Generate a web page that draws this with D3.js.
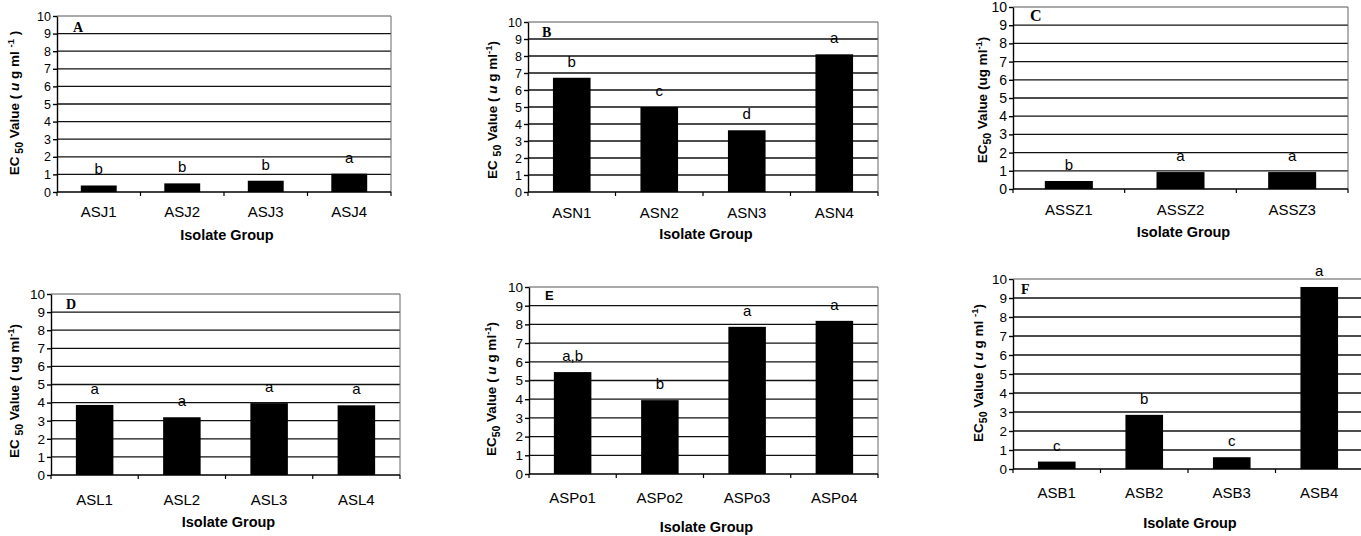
<!DOCTYPE html>
<html>
<head>
<meta charset="utf-8">
<script src="https://cdn.jsdelivr.net/npm/d3@7"></script>
<style>
  body { margin: 0; background: #fff; }
  svg { display: block; font-family: Arial, "Liberation Sans", sans-serif; }
</style>
</head>
<body>
<svg width="1361" height="536"></svg>
<script>
// Tick labels shared by all six panels
const yTicks = [0, 1, 2, 3, 4, 5, 6, 7, 8, 9, 10];
const xTitle = "Isolate Group";

// Panel A
const catsA = ["ASJ1", "ASJ2", "ASJ3", "ASJ4"];
const valsA = [0.37, 0.49, 0.64, 1.04];
const lettersA = ["b", "b", "b", "a"];
// Panel B
const catsB = ["ASN1", "ASN2", "ASN3", "ASN4"];
const valsB = [6.72, 5.0, 3.63, 8.1];
const lettersB = ["b", "c", "d", "a"];
// Panel C
const catsC = ["ASSZ1", "ASSZ2", "ASSZ3"];
const valsC = [0.44, 0.93, 0.93];
const lettersC = ["b", "a", "a"];
// Panel D
const catsD = ["ASL1", "ASL2", "ASL3", "ASL4"];
const valsD = [3.87, 3.19, 3.97, 3.85];
const lettersD = ["a", "a", "a", "a"];
// Panel E
const catsE = ["ASPo1", "ASPo2", "ASPo3", "ASPo4"];
const valsE = [5.45, 3.95, 7.87, 8.19];
const lettersE = ["a,b", "b", "a", "a"];
// Panel F
const catsF = ["ASB1", "ASB2", "ASB3", "ASB4"];
const valsF = [0.39, 2.85, 0.62, 9.58];
const lettersF = ["c", "b", "c", "a"];

// y axis titles (text pieces: s = subscript, p = superscript, i = italic)
const titleA = [["EC"], [" 50", "s"], [" Value ( "], ["u", "i"], [" g ml "], ["-1", "p"], [" )"]];
const titleB = [["EC "], ["50", "s"], [" Value ( "], ["u", "i"], [" g ml"], ["-1", "p"], [")"]];
const titleC = [["EC"], ["50", "s"], [" Value (ug ml"], ["-1", "p"], [")"]];
const titleD = [["EC "], ["50", "s"], [" Value ( ug ml"], ["-1", "p"], [")"]];
const titleE = [["EC"], ["50", "s"], [" Value ( "], ["u", "i"], [" g ml"], ["-1", "p"], [")"]];
const titleF = [["EC"], ["50", "s"], [" Value ( "], ["u", "i"], [" g ml "], ["-1", "p"], [")"]];

// layout of each panel on the page
const panels = [
  {id: "A", cats: catsA, vals: valsA, letters: lettersA, title: titleA,
   l: 57, r: 391, t: 16, b: 192, tickFs: 12.5, tx: 19, ty: 103, lab: 25, xt: 48,
   idx: 73, idy: 32, idFont: "Times New Roman, Liberation Serif, serif", idFs: 14},
  {id: "B", cats: catsB, vals: valsB, letters: lettersB, title: titleB,
   l: 528, r: 878, t: 22, b: 192, tickFs: 12.5, tx: 497, ty: 110, lab: 26, xt: 47,
   idx: 542, idy: 37, idFont: "Times New Roman, Liberation Serif, serif", idFs: 14},
  {id: "C", cats: catsC, vals: valsC, letters: lettersC, title: titleC,
   l: 1013, r: 1348, t: 7, b: 189, tickFs: 14, tx: 987, ty: 100, lab: 26, xt: 48,
   idx: 1030, idy: 21, idFont: "Times New Roman, Liberation Serif, serif", idFs: 16},
  {id: "D", cats: catsD, vals: valsD, letters: lettersD, title: titleD,
   l: 51, r: 400, t: 294, b: 475, tickFs: 13.5, tx: 19, ty: 391, lab: 30, xt: 52,
   idx: 66, idy: 309, idFont: "Times New Roman, Liberation Serif, serif", idFs: 14},
  {id: "E", cats: catsE, vals: valsE, letters: lettersE, title: titleE,
   l: 529, r: 878, t: 287, b: 474, tickFs: 13.5, tx: 496, ty: 389, lab: 29, xt: 58,
   idx: 545, idy: 300, idFont: "Arial, Liberation Sans, sans-serif", idFs: 13},
  {id: "F", cats: catsF, vals: valsF, letters: lettersF, title: titleF,
   l: 1013, r: 1363, t: 279, b: 469, tickFs: 13.5, tx: 983, ty: 373, lab: 29, xt: 59,
   idx: 1021, idy: 294, idFont: "Times New Roman, Liberation Serif, serif", idFs: 14}
];

const svg = d3.select("svg");
svg.append("rect").attr("width", 1361).attr("height", 536).attr("fill", "#fff");

panels.forEach(p => {
  const g = svg.append("g");

  const x = d3.scaleBand()
      .domain(p.cats)
      .range([p.l, p.r])
      .paddingInner(0.57)
      .paddingOuter(0.285);

  const y = d3.scaleLinear()
      .domain([0, 10])
      .range([p.b, p.t]);

  // horizontal gridlines
  g.selectAll("line.grid")
    .data(yTicks.filter(d => d > 0))
    .join("line")
      .attr("class", "grid")
      .attr("x1", p.l).attr("x2", p.r)
      .attr("y1", d => y(d)).attr("y2", d => y(d))
      .attr("stroke", d => d === 10 ? "#555" : "#111")
      .attr("stroke-width", d => d === 10 ? 1 : 1.3);

  // right border of plot area
  g.append("line")
    .attr("x1", p.r).attr("x2", p.r)
    .attr("y1", y(10)).attr("y2", y(0))
    .attr("stroke", "#666");

  // bars
  g.selectAll("rect.bar")
    .data(p.cats)
    .join("rect")
      .attr("class", "bar")
      .attr("x", d => x(d))
      .attr("width", x.bandwidth())
      .attr("y", (d, i) => y(p.vals[i]))
      .attr("height", (d, i) => y(0) - y(p.vals[i]))
      .attr("fill", "#000");

  // significance letters
  g.selectAll("text.sig")
    .data(p.cats)
    .join("text")
      .attr("class", "sig")
      .attr("x", d => x(d) + x.bandwidth() / 2)
      .attr("y", (d, i) => y(p.vals[i]) - 11)
      .attr("text-anchor", "middle")
      .attr("font-size", 15)
      .text((d, i) => p.letters[i]);

  // y axis
  const ya = g.append("g")
    .attr("transform", `translate(${p.l},0)`)
    .call(d3.axisLeft(y).tickValues(yTicks).tickSize(4).tickSizeOuter(0).tickPadding(2));
  ya.selectAll("text").attr("font-size", p.tickFs).attr("fill", "#000")
    .attr("font-family", "Arial, Liberation Sans, sans-serif");
  ya.selectAll("line, path").attr("stroke", "#000").attr("stroke-width", 1.4);

  // x axis line and boundary ticks
  g.append("line")
    .attr("x1", p.l).attr("x2", p.r)
    .attr("y1", y(0)).attr("y2", y(0))
    .attr("stroke", "#000").attr("stroke-width", 1.4);
  g.selectAll("line.xtick")
    .data(d3.range(p.cats.length + 1))
    .join("line")
      .attr("class", "xtick")
      .attr("x1", i => p.l + i * x.step()).attr("x2", i => p.l + i * x.step())
      .attr("y1", y(0)).attr("y2", y(0) + 4)
      .attr("stroke", "#000").attr("stroke-width", 1.2);

  // category labels
  g.selectAll("text.cat")
    .data(p.cats)
    .join("text")
      .attr("class", "cat")
      .attr("x", d => x(d) + x.bandwidth() / 2)
      .attr("y", y(0) + p.lab)
      .attr("text-anchor", "middle")
      .attr("font-size", 15)
      .text(d => d);

  // x axis title
  g.append("text")
    .attr("x", (p.l + Math.min(p.r, 1361)) / 2 + 3)
    .attr("y", y(0) + p.xt)
    .attr("text-anchor", "middle")
    .attr("font-size", 14.5)
    .attr("font-weight", "bold")
    .text(xTitle);

  // y axis title
  const yt = g.append("text")
    .attr("transform", `translate(${p.tx},${p.ty}) rotate(-90)`)
    .attr("text-anchor", "middle")
    .attr("font-size", 13.5)
    .attr("font-weight", "bold");
  let shift = 0;
  p.title.forEach(([txt, kind]) => {
    const ts = yt.append("tspan").text(txt);
    let target = 0;
    if (kind === "s") { ts.attr("font-size", 10.5); target = 4; }
    if (kind === "p") { ts.attr("font-size", 9.5); target = -5; }
    if (kind === "i") { ts.attr("font-style", "italic"); }
    ts.attr("dy", target - shift);
    shift = target;
  });

  // panel letter
  g.append("text")
    .attr("x", p.idx)
    .attr("y", p.idy)
    .attr("font-family", p.idFont)
    .attr("font-size", p.idFs)
    .attr("font-weight", "bold")
    .text(p.id);
});
</script>
</body>
</html>
